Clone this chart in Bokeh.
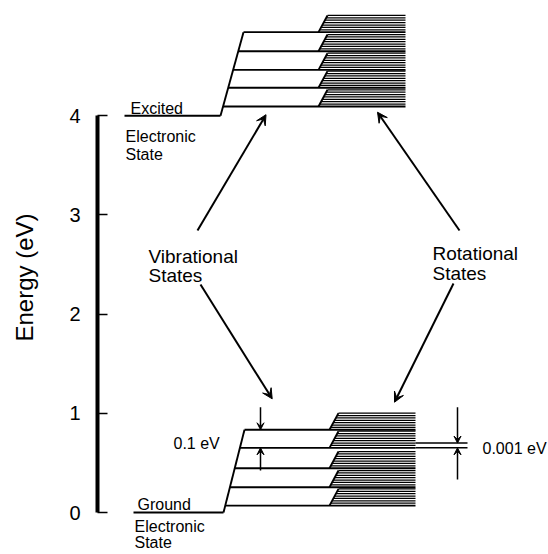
from bokeh.plotting import figure
from bokeh.models import Range1d, Arrow, VeeHead, FixedTicker
from bokeh.core.properties import value
from bokeh.embed import file_html
from bokeh.resources import INLINE

FONT = "Liberation Sans"

# ---------------- data (energies in eV) ----------------
axis_ticks = [0, 1, 2, 3, 4]
axis_title = "Energy (eV)"
ground_E = 0.0
excited_E = 4.0
ground_vib = [0.07, 0.255, 0.447, 0.652, 0.834]
excited_vib = [4.093, 4.281, 4.462, 4.650, 4.842]
rot_spacing = 0.024
rot_count = 7
state_names = ["Excited", "Ground"]
state_sub = ["Electronic", "State"]
group_names = [["Vibrational", "States"], ["Rotational", "States"]]
spacing_labels = ["0.1 eV", "0.001 eV"]

# ---------------- layout (schematic x units) ----------------
G = dict(lx0=133, lx1=223, sx1=244, rx0=329, rdx=9, rx1=415)
X = dict(lx0=124, lx1=220, sx1=243, rx0=318, rdx=9, rx1=405)

p = figure(width=548, height=554, x_range=Range1d(97, 548), y_range=Range1d(-0.423, 5.161),
           x_axis_location=None, output_backend="svg", toolbar_location=None,
           min_border_left=97, min_border_right=0, min_border_top=0, min_border_bottom=0)
p.grid.visible = False
p.outline_line_color = None
p.background_fill_color = "white"

ax = p.yaxis[0]
ax.bounds = (0, 4)
ax.ticker = FixedTicker(ticks=axis_ticks)
ax.minor_tick_line_color = None
ax.major_tick_in = 10
ax.major_tick_out = 0
ax.major_tick_line_width = 1.5
ax.major_tick_line_color = "black"
ax.axis_line_width = 4
ax.axis_line_color = "black"
ax.major_label_text_font = FONT
ax.major_label_text_font_size = "20px"
ax.major_label_text_color = "black"
ax.major_label_standoff = 17
ax.axis_label = axis_title
ax.axis_label_text_font = FONT
ax.axis_label_text_font_size = "24px"
ax.axis_label_text_font_style = "normal"
ax.axis_label_text_color = "black"
ax.axis_label_standoff = 28


def draw_state(E0, vib, L):
    thick = dict(x0=[], y0=[], x1=[], y1=[])
    thin = dict(x0=[], y0=[], x1=[], y1=[])

    def add(d, a, b, c, e):
        d["x0"].append(a); d["y0"].append(b); d["x1"].append(c); d["y1"].append(e)

    top = vib[-1]
    add(thick, L["lx0"], E0, L["lx1"], E0)
    add(thick, L["lx1"], E0, L["sx1"], top)
    h = rot_count * rot_spacing
    for Ev in vib:
        xs = L["lx1"] + (Ev - E0) / (top - E0) * (L["sx1"] - L["lx1"])
        add(thick, xs, Ev, L["rx1"], Ev)
        add(thick, L["rx0"], Ev, L["rx0"] + L["rdx"], Ev + h)
        for k in range(1, rot_count + 1):
            add(thin, L["rx0"] + L["rdx"] * k / rot_count, Ev + k * rot_spacing, L["rx1"], Ev + k * rot_spacing)
    p.segment(x0="x0", y0="y0", x1="x1", y1="y1", source=thick, line_width=1.9, line_color="black")
    p.segment(x0="x0", y0="y0", x1="x1", y1="y1", source=thin, line_width=1.25, line_color="black")


draw_state(ground_E, ground_vib, G)
draw_state(excited_E, excited_vib, X)

# extended rotational lines for the 0.001 eV spacing
ext_E = [ground_vib[3] + 2 * rot_spacing, ground_vib[3]]
p.segment(x0=[G["rx1"]] * 2, y0=ext_E, x1=[467] * 2, y1=ext_E, line_width=1.5, line_color="black")


def txt(x, y, t, size, align="left"):
    p.text(x=x, y=y, text=t, text_font=value(FONT), text_font_size=size,
           text_baseline="alphabetic", text_align=align, text_color="black")


txt([130, 125, 125], [4.073, 3.790, 3.609], [state_names[0]] + state_sub, "16px")
txt([137, 134, 134], [0.081, -0.141, -0.302], [state_names[1]] + state_sub, "16px")
txt([148, 148], [2.581, 2.389], group_names[0], "19px")
txt([432, 432], [2.608, 2.409], group_names[1], "19px")
txt([173], [0.696], [spacing_labels[0]], "16px")
txt([482], [0.648], [spacing_labels[1]], "16px")


def arrow(xs, ys, xe, ye, size, lw):
    p.add_layout(Arrow(end=VeeHead(size=size, fill_color="black", line_color="black", line_width=1),
                       x_start=xs, y_start=ys, x_end=xe, y_end=ye,
                       line_width=lw, line_color="black"))


arrow(197, 2.843, 265.5, 4.01, 10, 2)
arrow(459, 2.843, 377, 4.035, 10, 2)
arrow(200, 2.298, 271.7, 1.146, 10, 2)
arrow(453, 2.308, 394, 1.112, 10, 2)

arrow(260, 1.0615, 260, ground_vib[4], 7, 1.5)
arrow(260, 0.423, 260, ground_vib[3], 7, 1.5)
arrow(457, 1.0615, 457, ext_E[0], 7, 1.5)
arrow(457, 0.333, 457, ext_E[1], 7, 1.5)

open("out.html", "w").write(file_html(p, INLINE))
